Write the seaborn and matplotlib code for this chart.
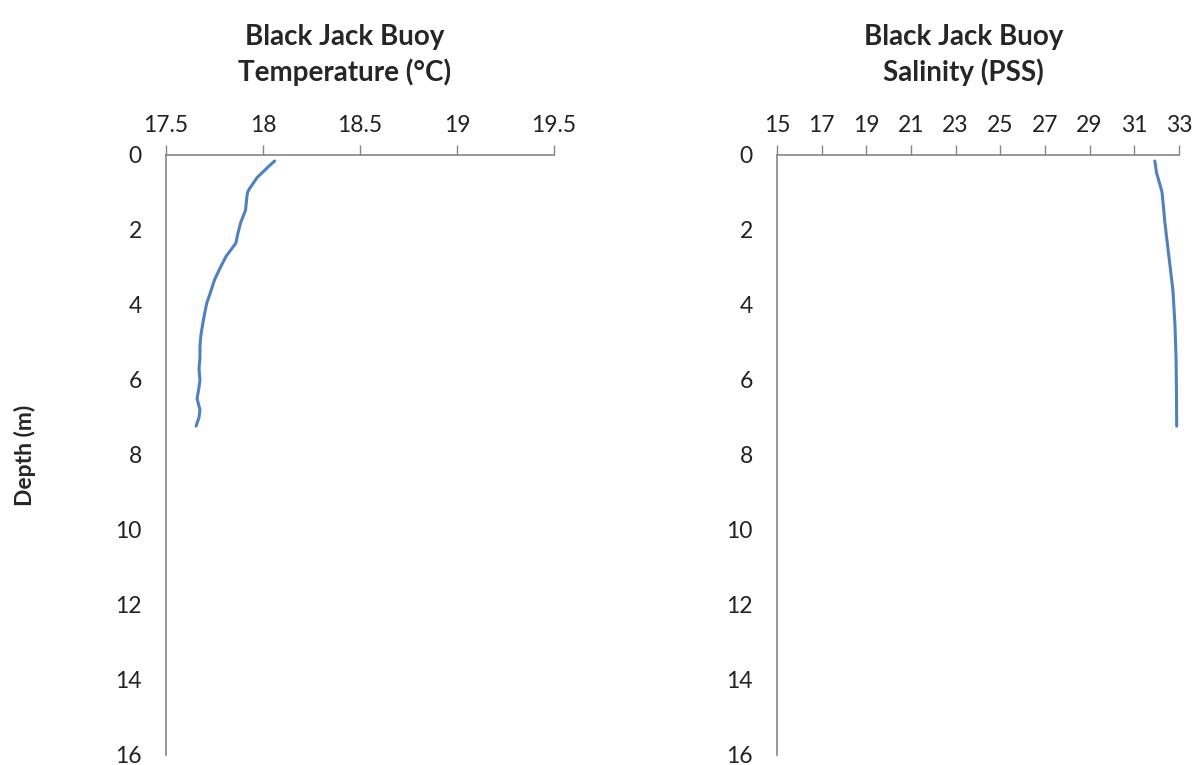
import pandas as pd
import matplotlib
matplotlib.use("Agg")
import matplotlib.pyplot as plt
import seaborn as sns

# profile values (depth in m)
temp_depth = [0.16, 0.3, 0.45, 0.6, 0.75, 0.9, 1.0, 1.2, 1.47, 1.8, 2.1, 2.35, 2.7, 3.0, 3.33, 3.65, 3.95, 4.2, 4.48, 4.8, 5.1, 5.4, 5.7, 6.0, 6.2, 6.5, 6.8, 7.0, 7.23]
temperature = [18.06, 18.03, 18.0, 17.97, 17.95, 17.93, 17.92, 17.915, 17.91, 17.885, 17.87, 17.86, 17.81, 17.78, 17.75, 17.73, 17.71, 17.70, 17.69, 17.68, 17.675, 17.675, 17.67, 17.675, 17.67, 17.66, 17.675, 17.67, 17.655]

sal_depth = [0.16, 0.48, 0.98, 1.4, 1.8, 2.7, 3.6, 4.5, 5.4, 6.3, 7.23]
salinity = [31.92, 32.0, 32.24, 32.31, 32.37, 32.55, 32.73, 32.82, 32.87, 32.89, 32.9]

temp_ticks = [17.5, 18, 18.5, 19, 19.5]
temp_labels = ["17.5", "18", "18.5", "19", "19.5"]
sal_ticks = [15, 17, 19, 21, 23, 25, 27, 29, 31, 33]
depth_ticks = [0, 2, 4, 6, 8, 10, 12, 14, 16]

LINE = "#4F81BD"
GRIS = "#868686"

sns.set_style("white")
plt.rcParams['font.family'] = ['Lato', 'DejaVu Sans']

df_t = pd.DataFrame({'Temp': temperature, 'Depth': temp_depth})
df_s = pd.DataFrame({'Sal': salinity, 'Depth': sal_depth})

fig = plt.figure(figsize=(11.97, 7.65), dpi=100)
ax1 = fig.add_axes([0.1387, 0.0131, 0.3241, 0.7843])
ax2 = fig.add_axes([0.6491, 0.0131, 0.3358, 0.7843])

sns.lineplot(data=df_t, x='Temp', y='Depth', orient='y', sort=False, color=LINE, linewidth=2.2, ax=ax1)
sns.lineplot(data=df_s, x='Sal', y='Depth', orient='y', sort=False, color=LINE, linewidth=2.2, ax=ax2)

for ax, xlim, xt in [(ax1, (17.5, 19.5), temp_ticks), (ax2, (15, 33), sal_ticks)]:
    ax.set_xlim(*xlim)
    ax.set_ylim(16, 0)
    ax.set_xticks(xt)
    ax.set_yticks(depth_ticks)
    ax.xaxis.tick_top()
    ax.set_xlabel('')
    ax.set_ylabel('')
    for s in ['right', 'bottom']:
        ax.spines[s].set_visible(False)
    for s in ['top', 'left']:
        ax.spines[s].set_color(GRIS)
        ax.spines[s].set_linewidth(1.2)
    ax.tick_params(axis='both', direction='out', length=7.5, width=1, color=GRIS,
                   labelsize=16.5, labelcolor='#222222')
    ax.tick_params(axis='x', pad=6)
    ax.tick_params(axis='y', pad=10)

ax1.set_xticklabels(temp_labels)

fig.text(0.288, 0.928, 'Black Jack Buoy\nTemperature (°C)', ha='center', va='center',
         fontsize=20, fontweight='bold', linespacing=1.35)
fig.text(0.805, 0.928, 'Black Jack Buoy\nSalinity (PSS)', ha='center', va='center',
         fontsize=20, fontweight='bold', linespacing=1.35)
fig.text(0.021, 0.405, 'Depth (m)', ha='center', va='center', rotation=90,
         fontsize=16.5, fontweight='bold')

plt.savefig('out.png', dpi=100)
plt.close()
